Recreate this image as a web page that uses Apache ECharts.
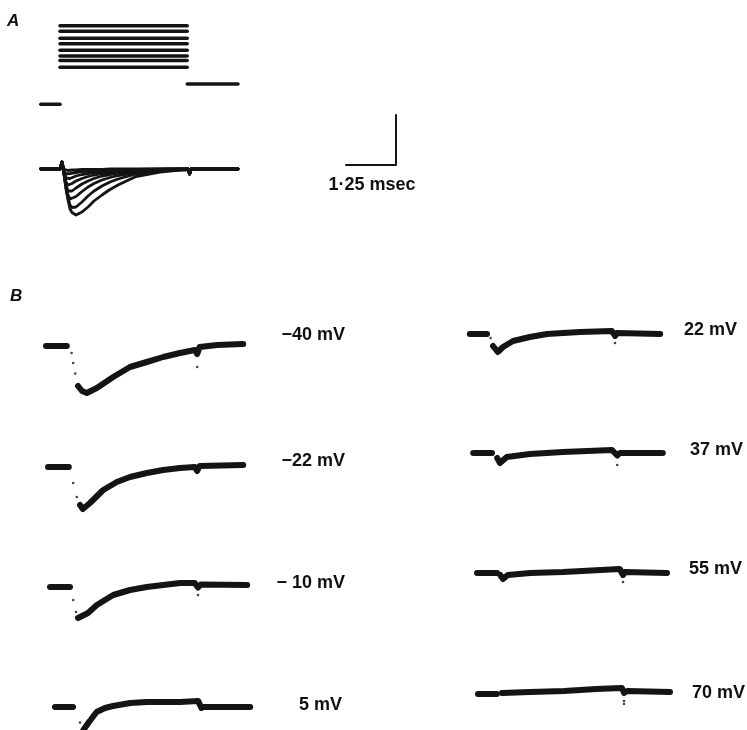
<!DOCTYPE html>
<html><head><meta charset="utf-8">
<script src="https://cdn.jsdelivr.net/npm/echarts@6/dist/echarts.min.js"></script>
<style>html,body{margin:0;padding:0;background:#fff}#c{width:747px;height:730px}</style>
</head><body><div id="c"></div><script>
// ---------------- DATA ----------------
// Panel A: command voltage steps (mV)
const stepLevels = [-40, -22, -10, 5, 22, 37, 55, 70];
const holdLevel = -138;
const postLevel = -84;
const stepStart = 0, stepEnd = 3.18;          // ms
const holdStart = -0.48, postEnd = 4.45;       // ms

// Panel A: membrane currents (arbitrary units, scale bar = 1 unit)
const tA  = [-0.48, 0, 0.05, 0.1, 0.15, 0.2, 0.25, 0.3, 0.4, 0.55, 0.7, 0.85, 1.05, 1.25, 1.45, 1.9, 2.5, 3.0, 3.2, 3.24, 3.28, 3.6, 4.45];
const iA1 = [0, 0, 0.14, -0.1, -0.4, -0.62, -0.8, -0.87, -0.92, -0.86, -0.76, -0.64, -0.52, -0.41, -0.32, -0.15, -0.06, -0.02, -0.01, -0.1, 0, 0, 0];
const iA2 = [0, 0, 0.14, -0.1, -0.38, -0.58, -0.72, -0.77, -0.76, -0.66, -0.54, -0.44, -0.34, -0.26, -0.2, -0.1, -0.04, -0.02, -0.01, -0.1, 0, 0, 0];
const iA3 = [0, 0, 0.14, -0.1, -0.36, -0.52, -0.6, -0.6, -0.55, -0.45, -0.36, -0.29, -0.22, -0.17, -0.13, -0.07, -0.03, -0.01, -0.01, -0.1, 0, 0, 0];
const iA4 = [0, 0, 0.14, -0.1, -0.32, -0.44, -0.46, -0.44, -0.38, -0.3, -0.24, -0.19, -0.14, -0.11, -0.08, -0.04, -0.02, -0.01, 0, -0.1, 0, 0, 0];
const iA5 = [0, 0, 0.14, -0.08, -0.26, -0.32, -0.32, -0.29, -0.24, -0.19, -0.15, -0.12, -0.09, -0.07, -0.05, -0.03, -0.01, 0, 0, -0.1, 0, 0, 0];
const iA6 = [0, 0, 0.14, -0.06, -0.18, -0.2, -0.19, -0.17, -0.14, -0.11, -0.09, -0.07, -0.05, -0.04, -0.03, -0.02, -0.01, 0, 0, -0.1, 0, 0, 0];
const iA7 = [0, 0, 0.14, -0.04, -0.1, -0.1, -0.09, -0.08, -0.07, -0.05, -0.04, -0.03, -0.03, -0.02, -0.02, -0.01, 0, 0, 0, -0.1, 0, 0, 0];
const iA8 = [0, 0, 0.14, 0, -0.03, -0.03, -0.02, -0.02, -0.02, -0.01, -0.01, -0.01, -0.01, 0, 0, 0, 0, 0, 0, -0.1, 0, 0, 0];

// Scale bar values
const scaleBarTime = 1.25;   // ms
const scaleBarCurrent = 1;   // unit
const scaleBarLabel = '1·25 msec';

// Panel B: traces at each test potential [t (ms), I (units)]
const traceLabels = ['−40 mV', '−22 mV', '− 10 mV', '5 mV', '22 mV', '37 mV', '55 mV', '70 mV'];

const preM40  = [[-0.6, 0], [-0.08, 0]];
const fallM40 = [[0.04, -0.14], [0.08, -0.34], [0.13, -0.55], [3.18, -0.42]];
const mainM40 = [[0.2, -0.8], [0.3, -0.9], [0.42, -0.94], [0.67, -0.84], [1.08, -0.62], [1.5, -0.42], [1.92, -0.32], [2.33, -0.22], [2.75, -0.14], [3.12, -0.08], [3.18, -0.16], [3.24, -0.02], [3.68, 0.02], [4.33, 0.04]];

const preM22  = [[-0.55, 0], [-0.03, 0]];
const fallM22 = [[0.08, -0.32], [0.17, -0.6]];
const mainM22 = [[0.25, -0.76], [0.32, -0.84], [0.5, -0.72], [0.83, -0.46], [1.17, -0.3], [1.5, -0.2], [1.92, -0.12], [2.33, -0.06], [2.75, -0.02], [3.12, 0], [3.18, -0.08], [3.24, 0.02], [4.33, 0.04]];

const preM10  = [[-0.55, 0], [-0.05, 0]];
const fallM10 = [[0.03, -0.26], [0.1, -0.5], [3.15, -0.16]];
const mainM10 = [[0.15, -0.62], [0.2, -0.66], [0.4, -0.52], [0.62, -0.36], [1.03, -0.16], [1.45, -0.06], [1.87, 0], [2.28, 0.04], [2.7, 0.08], [3.07, 0.08], [3.15, -0.01], [3.22, 0.05], [4.38, 0.04]];

const preP5   = [[-0.5, 0], [-0.05, 0]];
const fallP5  = [[0.125, -0.31]];
const mainP5  = [[0.16, -0.55], [0.21, -0.46], [0.35, -0.3], [0.54, -0.1], [0.75, -0.02], [0.95, 0.02], [1.38, 0.08], [1.8, 0.1], [2.2, 0.1], [2.63, 0.1], [3.08, 0.12], [3.16, -0.02], [3.22, 0], [4.38, 0]];

const preP22  = [[-0.48, 0], [-0.05, 0]];
const fallP22 = [[0.04, -0.08], [3.15, -0.18]];
const mainP22 = [[0.1, -0.24], [0.22, -0.36], [0.35, -0.26], [0.6, -0.14], [1.02, -0.06], [1.45, 0], [1.85, 0.02], [2.28, 0.04], [3.07, 0.06], [3.15, -0.04], [3.2, 0.02], [4.28, 0]];

const preP37  = [[-0.52, 0], [-0.05, 0]];
const fallP37 = [[3.08, -0.24]];
const mainP37 = [[0.08, -0.1], [0.15, -0.2], [0.32, -0.08], [0.9, -0.02], [1.72, 0.02], [2.95, 0.06], [3.08, -0.05], [3.15, 0], [4.22, 0]];

const preP55  = [[-0.55, 0], [-0.05, 0]];
const fallP55 = [[3.1, -0.18]];
const mainP55 = [[0.03, -0.04], [0.1, -0.12], [0.22, -0.04], [0.78, 0], [1.6, 0.02], [3.02, 0.08], [3.1, -0.04], [3.15, 0.02], [4.2, 0]];

const preP70  = [[-0.55, 0], [-0.08, 0]];
const fallP70 = [[3.1, -0.14], [3.1, -0.2]];
const mainP70 = [[0.05, 0.02], [0.75, 0.04], [1.6, 0.06], [2.4, 0.1], [3.05, 0.12], [3.1, 0.02], [3.18, 0.06], [4.25, 0.04]];

// ---------------- LAYOUT ----------------
const CANVAS_H = 730;
const PX_MS = 40, PX_I = 50;
const B_T = [-0.7, 4.6], B_IMAX = 0.4, B_IMIN = -1.2;
const bLayout = [
  {t0x: 70,  base: 346, lx: 345, ly: 335},
  {t0x: 70,  base: 467, lx: 345, ly: 461},
  {t0x: 72,  base: 587, lx: 345, ly: 583},
  {t0x: 75,  base: 707, lx: 342, ly: 705},
  {t0x: 489, base: 334, lx: 737, ly: 330},
  {t0x: 494, base: 453, lx: 743, ly: 450},
  {t0x: 499, base: 573, lx: 742, ly: 569},
  {t0x: 500, base: 694, lx: 745, ly: 693}
];
const bTraces = [
  [preM40, fallM40, mainM40], [preM22, fallM22, mainM22], [preM10, fallM10, mainM10], [preP5, fallP5, mainP5],
  [preP22, fallP22, mainP22], [preP37, fallP37, mainP37], [preP55, fallP55, mainP55], [preP70, fallP70, mainP70]
];

const INK = '#141414';
const grids = [], xAxes = [], yAxes = [], series = [];
function addGrid(left, top, xr, yr, pxx, pxy) {
  const i = grids.length;
  grids.push({left, top, width: (xr[1] - xr[0]) * pxx, height: (yr[1] - yr[0]) * pxy, containLabel: false, show: false});
  xAxes.push({type: 'value', gridIndex: i, min: xr[0], max: xr[1], show: false});
  yAxes.push({type: 'value', gridIndex: i, min: yr[0], max: yr[1], show: false});
  return i;
}
function addLine(gi, data, w) {
  series.push({type: 'line', xAxisIndex: gi, yAxisIndex: gi, data, symbol: 'none', showSymbol: false, clip: true,
    lineStyle: {color: INK, width: w, cap: 'round', join: 'round'}, animation: false, silent: true});
}
function addDots(gi, data, s) {
  series.push({type: 'scatter', xAxisIndex: gi, yAxisIndex: gi, data, symbolSize: s, clip: true,
    itemStyle: {color: INK}, animation: false, silent: true});
}

// Panel A voltage
const A_T = [-0.5, 4.5];
const mvPx = 0.378;
const gV = addGrid(40, 25.7 - (80 - 70) * mvPx, A_T, [-150, 80], PX_MS, mvPx);
stepLevels.forEach(v => addLine(gV, [[stepStart, v], [stepEnd, v]], 3.5));
addLine(gV, [[holdStart, holdLevel], [stepStart, holdLevel]], 3.5);
addLine(gV, [[stepEnd, postLevel], [postEnd, postLevel]], 3.5);

// Panel A currents
const gI = addGrid(40, 169 - B_IMAX * PX_I, A_T, [B_IMIN, B_IMAX], PX_MS, PX_I);
[iA8, iA7, iA6, iA5, iA4, iA3, iA2, iA1].forEach(arr => addLine(gI, tA.map((t, k) => [t, arr[k]]), 2.8));

// Scale bar
const gS = addGrid(346, 115, [0, scaleBarTime], [0, scaleBarCurrent], PX_MS, PX_I);
addLine(gS, [[0, 0], [scaleBarTime, 0], [scaleBarTime, scaleBarCurrent]], 2);

// Panel B (grids kept inside the page so ECharts does not squeeze them)
bTraces.forEach((tr, k) => {
  const L = bLayout[k];
  const yMin = Math.max(B_IMIN, -(CANVAS_H - L.base) / PX_I);
  const g = addGrid(L.t0x + B_T[0] * PX_MS, L.base - B_IMAX * PX_I, B_T, [yMin, B_IMAX], PX_MS, PX_I);
  addLine(g, tr[0], 6);
  addDots(g, tr[1], 2.6);
  addLine(g, tr[2], 6);
});

const textStyleBase = {fill: '#111', fontFamily: 'Liberation Sans, Arial, sans-serif', fontWeight: 'bold', fontSize: 18};
const graphic = [
  {type: 'text', left: 7, top: 13, style: Object.assign({}, textStyleBase, {text: 'A', fontStyle: 'italic', fontSize: 17})},
  {type: 'text', left: 10, top: 288, style: Object.assign({}, textStyleBase, {text: 'B', fontStyle: 'italic', fontSize: 17})},
  {type: 'text', x: 372, y: 185, style: Object.assign({}, textStyleBase, {text: scaleBarLabel, textAlign: 'center', textVerticalAlign: 'middle'})}
];
traceLabels.forEach((lab, k) => {
  const L = bLayout[k];
  graphic.push({type: 'text', x: L.lx, y: L.ly, style: Object.assign({}, textStyleBase, {text: lab, textAlign: 'right', textVerticalAlign: 'middle'})});
});

const chart = echarts.init(document.getElementById('c'), null, {renderer: 'canvas'});
chart.setOption({
  backgroundColor: '#ffffff',
  animation: false,
  grid: grids, xAxis: xAxes, yAxis: yAxes, series, graphic
});
</script></body></html>
